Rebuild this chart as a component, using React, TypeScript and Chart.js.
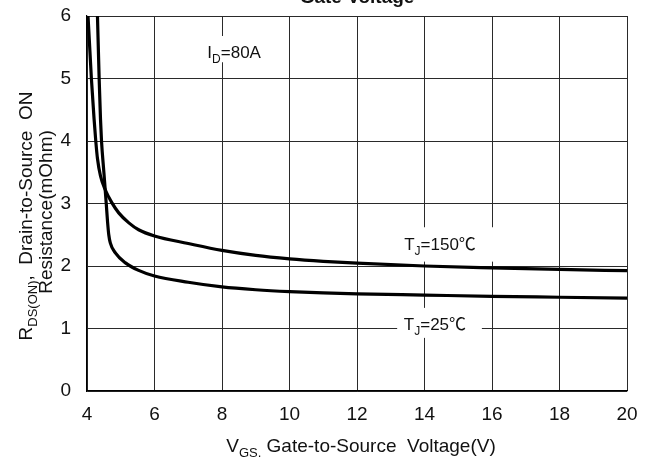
import { useEffect, useRef } from "react";
import { Chart, registerables } from "chart.js";

Chart.register(...registerables);

// Gate-to-source voltage (V) and on-resistance (mOhm) samples per junction temperature
const vgsTj25 = [4.29, 4.31, 4.36, 4.4, 4.43, 4.5, 4.57, 4.61, 4.645, 4.69, 4.84, 5.14, 5.53, 6, 7, 8, 9, 10, 11, 12, 14, 16, 18, 20];
const rdsTj25 = [6.4, 6.0, 5.0, 4.35, 4.0, 3.5, 3.0, 2.7, 2.5, 2.37, 2.21, 2.05, 1.93, 1.84, 1.74, 1.665, 1.62, 1.59, 1.57, 1.555, 1.535, 1.515, 1.5, 1.485];

const vgsTj150 = [4.0, 4.03, 4.13, 4.21, 4.26, 4.31, 4.4, 4.54, 4.74, 4.94, 5.24, 5.53, 6, 7, 8, 9, 10, 11, 12, 14, 16, 18, 20];
const rdsTj150 = [6.35, 6.0, 5.0, 4.35, 4.0, 3.72, 3.44, 3.22, 3.01, 2.85, 2.69, 2.58, 2.48, 2.36, 2.25, 2.17, 2.115, 2.075, 2.045, 2.0, 1.97, 1.945, 1.925];

const xTicks = [4, 6, 8, 10, 12, 14, 16, 18, 20];
const yTicks = [0, 1, 2, 3, 4, 5, 6];

const FONT = "'Liberation Sans', Arial, 'Noto Sans CJK SC', sans-serif";
const INK = "#111";

type Part = { text: string; sub?: boolean };

// Draws a run of text with optional subscript pieces on a baseline at y
function drawRich(ctx: CanvasRenderingContext2D, parts: Part[], x: number, y: number, size: number, align: "center" | "left" = "center") {
  const subSize = Math.round(size * 0.68);
  const widths = parts.map((p) => {
    ctx.font = `${p.sub ? subSize : size}px ${FONT}`;
    return ctx.measureText(p.text).width;
  });
  const total = widths.reduce((a, b) => a + b, 0);
  let cx = align === "center" ? x - total / 2 : x;
  ctx.textAlign = "left";
  ctx.textBaseline = "alphabetic";
  parts.forEach((p, i) => {
    ctx.font = `${p.sub ? subSize : size}px ${FONT}`;
    ctx.fillText(p.text, cx, p.sub ? y + size * 0.28 : y);
    cx += widths[i];
  });
}

const labelsPlugin = {
  id: "curveLabels",
  beforeDatasetsDraw(chart: any) {
    const ctx: CanvasRenderingContext2D = chart.ctx;
    const xs = chart.scales.x;
    const ys = chart.scales.y;
    ctx.save();
    // white boxes behind the annotations
    ctx.fillStyle = "#fff";
    const boxes = [
      [7.29, 9.42, 5.68, 5.26],
      [13.13, 16.24, 2.62, 2.07],
      [13.19, 15.7, 1.33, 0.85],
    ];
    boxes.forEach(([x0, x1, y0, y1]) => {
      const l = xs.getPixelForValue(x0);
      const r = xs.getPixelForValue(x1);
      const t = ys.getPixelForValue(y0);
      const b = ys.getPixelForValue(y1);
      ctx.fillRect(l, t, r - l, b - t);
    });
    ctx.fillStyle = INK;
    drawRich(ctx, [{ text: "I" }, { text: "D", sub: true }, { text: "=80A" }], xs.getPixelForValue(8.36), ys.getPixelForValue(5.33), 17, "center");
    drawRich(ctx, [{ text: "T" }, { text: "J", sub: true }, { text: "=150℃" }], xs.getPixelForValue(14.46), ys.getPixelForValue(2.26), 17, "center");
    drawRich(ctx, [{ text: "T" }, { text: "J", sub: true }, { text: "=25℃" }], xs.getPixelForValue(14.31), ys.getPixelForValue(0.98), 17, "center");
    ctx.restore();
  },
  afterDraw(chart: any) {
    const ctx: CanvasRenderingContext2D = chart.ctx;
    const area = chart.chartArea;
    ctx.save();
    ctx.fillStyle = INK;
    // chart title
    ctx.font = `bold 19px ${FONT}`;
    ctx.textAlign = "center";
    ctx.textBaseline = "alphabetic";
    ctx.fillText("Gate Voltage", (area.left + area.right) / 2, 3);
    // x axis title
    drawRich(ctx, [{ text: "V" }, { text: "GS,", sub: true }, { text: " Gate-to-Source  Voltage(V)" }], 361, 452, 19, "center");
    // y axis title, two rotated lines
    ctx.save();
    ctx.translate(32, 216);
    ctx.rotate(-Math.PI / 2);
    drawRich(ctx, [{ text: "R" }, { text: "DS(ON)", sub: true }, { text: ",  Drain-to-Source  ON" }], 0, 0, 19, "center");
    ctx.restore();
    ctx.save();
    ctx.translate(52, 212);
    ctx.rotate(-Math.PI / 2);
    drawRich(ctx, [{ text: "Resistance(mOhm)" }], 0, 0, 19, "center");
    ctx.restore();
    ctx.restore();
  },
};

export default function App() {
  const canvasRef = useRef<HTMLCanvasElement | null>(null);

  useEffect(() => {
    const canvas = canvasRef.current;
    if (!canvas) return;
    const chart = new Chart(canvas, {
      type: "line",
      data: {
        datasets: [
          {
            label: "TJ=150℃",
            data: vgsTj150.map((v, i) => ({ x: v, y: rdsTj150[i] })),
            borderColor: "#000",
            borderWidth: 3.2,
            pointRadius: 0,
            cubicInterpolationMode: "monotone",
            fill: false,
          },
          {
            label: "TJ=25℃",
            data: vgsTj25.map((v, i) => ({ x: v, y: rdsTj25[i] })),
            borderColor: "#000",
            borderWidth: 3.2,
            pointRadius: 0,
            cubicInterpolationMode: "monotone",
            fill: false,
          },
        ],
      },
      options: {
        responsive: false,
        animation: false,
        layout: { padding: { left: 0, right: 25, top: 16, bottom: 0 } },
        plugins: {
          legend: { display: false },
          title: { display: false },
          tooltip: { enabled: false },
        },
        scales: {
          x: {
            type: "linear",
            min: 4,
            max: 20,
            afterBuildTicks: (s: any) => {
              s.ticks = xTicks.map((v) => ({ value: v }));
            },
            afterFit: (s: any) => {
              s.height = 66;
              s.paddingLeft = 0;
              s.paddingRight = 0;
            },
            grid: { color: "#2a2a2a", lineWidth: 1, drawTicks: false },
            border: { color: "#000", width: 1.2 },
            ticks: {
              color: INK,
              padding: 12,
              font: { family: FONT, size: 19 },
              maxRotation: 0,
            },
          },
          y: {
            type: "linear",
            min: 0,
            max: 6,
            afterBuildTicks: (s: any) => {
              s.ticks = yTicks.map((v) => ({ value: v }));
            },
            afterFit: (s: any) => {
              s.width = 87;
              s.paddingTop = 0;
              s.paddingBottom = 0;
            },
            grid: { color: "#2a2a2a", lineWidth: 1, drawTicks: false },
            border: { color: "#000", width: 1.2 },
            ticks: {
              color: INK,
              padding: 16,
              font: { family: FONT, size: 19 },
            },
          },
        },
      },
      plugins: [labelsPlugin],
    });
    return () => chart.destroy();
  }, []);

  return (
    <div style={{ position: "absolute", left: 0, top: 0, width: 652, height: 457, background: "#fff" }}>
      <canvas ref={canvasRef} width={652} height={457} style={{ display: "block" }} />
    </div>
  );
}
